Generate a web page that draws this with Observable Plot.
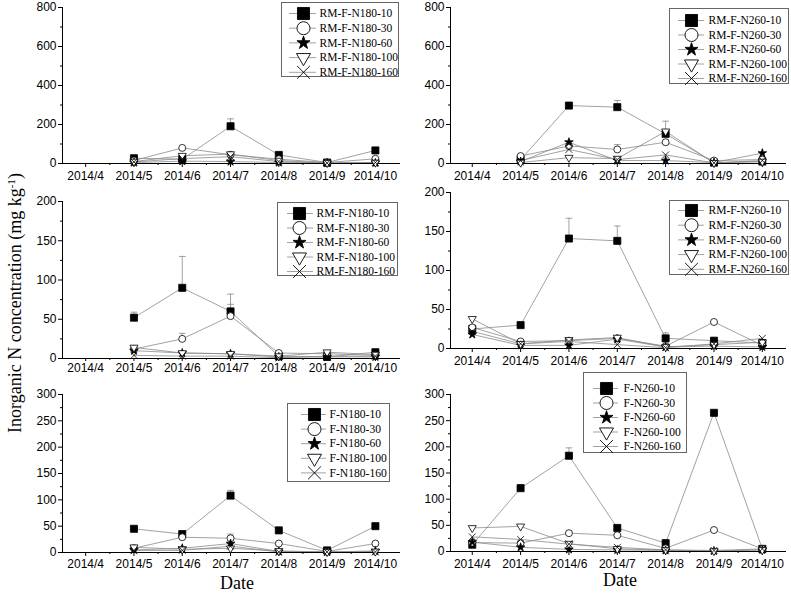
<!DOCTYPE html>
<html><head><meta charset="utf-8">
<script src="https://cdn.jsdelivr.net/npm/d3@7"></script>
<script src="https://cdn.jsdelivr.net/npm/@observablehq/plot@0.6"></script>
<style>
body{margin:0;background:#fff;}
#root{position:relative;width:791px;height:594px;overflow:hidden;background:#fff;}
.panel{position:absolute;}
.legend{position:absolute;border:1px solid #666;background:#fff;box-sizing:border-box;}
.ytitle{position:absolute;white-space:nowrap;font-family:"Liberation Serif","Times New Roman",serif;font-size:18px;transform:translate(-50%,-50%) rotate(-90deg);line-height:1;}
.xtitle{position:absolute;white-space:nowrap;font-family:"Liberation Serif","Times New Roman",serif;font-size:18px;transform:translate(-50%,-50%);line-height:1;}
</style></head><body><div id="root"></div>
<script>
// ---------- data ----------
const months = ["2014/4","2014/5","2014/6","2014/7","2014/8","2014/9","2014/10"];

const labelsA = ["RM-F-N180-10","RM-F-N180-30","RM-F-N180-60","RM-F-N180-100","RM-F-N180-160"];
const labelsB = ["RM-F-N260-10","RM-F-N260-30","RM-F-N260-60","RM-F-N260-100","RM-F-N260-160"];
const labelsE = ["F-N180-10","F-N180-30","F-N180-60","F-N180-100","F-N180-160"];
const labelsF = ["F-N260-10","F-N260-30","F-N260-60","F-N260-100","F-N260-160"];

// top-left (RM-F-N180), series: 10, 30, 60, 100, 160 cm
const valuesA = [
  [null, 27, 22, 191, 44, 5, 67],
  [null, 15, 80, 45, 22, 5, 24],
  [null, 5, 12, 10, 5, 2, 3],
  [null, 10, 40, 48, 15, 3, 5],
  [null, 8, 25, 35, 10, 2, 5]
];
const errA = [[null, 0, 0, 38, 0, 0, 0], [], [], [], []];

// top-right (RM-F-N260)
const valuesB = [
  [null, 20, 297, 289, 152, 5, 10],
  [null, 38, 90, 72, 109, 15, 20],
  [null, 10, 109, 15, 15, 5, 53],
  [null, 5, 30, 25, 165, 3, 10],
  [null, 15, 72, 20, 44, 3, 15]
];
const errB = [[null, 0, 0, 34, 65, 0, 0], [null, 0, 0, 25, 0, 0, 0], [], [], []];

// middle-left (RM-F-N180)
const valuesC = [
  [null, 52, 90, 60, 3, 2, 8],
  [null, 12, 25, 54, 7, 6, 4],
  [null, 10, 7, 6, 2, 2, 2],
  [null, 14, 7, 6, 3, 8, 5],
  [null, 4, 3, 3, 1, 3, 3]
];
const errC = [[null, 7, 40, 22, 0, 0, 0], [null, 0, 7, 15, 0, 0, 0], [], [], []];

// middle-right (RM-F-N260)
const valuesD = [
  [25, 30, 141, 138, 13, 10, 7],
  [27, 9, 10, 13, 3, 34, 4],
  [18, 4, 4, 12, 2, 3, 2],
  [38, 6, 11, 14, 2, 5, 8],
  [22, 6, 9, 5, 1, 6, 13]
];
const errD = [[0, 0, 26, 19, 7, 0, 0], [], [], [], []];

// bottom-left (F-N180)
const valuesE = [
  [null, 45, 35, 108, 42, 4, 50],
  [null, 8, 29, 27, 17, 2, 17],
  [null, 5, 8, 17, 2, 1, 3],
  [null, 10, 6, 8, 3, 1, 2],
  [null, 4, 4, 12, 1, 1, 1]
];
const errE = [[null, 0, 0, 10, 0, 0, 0], [null, 0, 0, 8, 0, 0, 0], [], [], []];

// bottom-right (F-N260)
const valuesF = [
  [13, 121, 183, 45, 16, 265, 5],
  [17, 16, 35, 31, 6, 41, 5],
  [18, 8, 4, 3, 2, 1, 3],
  [45, 48, 15, 5, 3, 1, 3],
  [28, 23, 14, 8, 3, 2, 5]
];
const errF = [[0, 7, 15, 0, 0, 0, 0], [], [], [], []];

const ticks800 = [0, 200, 400, 600, 800];
const ticks200 = [0, 50, 100, 150, 200];
const ticks300 = [0, 50, 100, 150, 200, 250, 300];

// ---------- styles ----------
const SYM = [
  {symbol: "square", fill: "black", stroke: "black"},
  {symbol: "circle", fill: "white", stroke: "black"},
  {symbol: "star", fill: "black", stroke: "black"},
  {symbol: "triangle", fill: "white", stroke: "black", rotate: 180},
  {symbol: "times", fill: "none", stroke: "black"}
];
const PANEL_R = [4, 3.5, 2.7, 3, 3.2];
const LEGEND_R = [6.8, 6.5, 4.1, 5.2, 5.9];
const GRAY = "#8a8a8a";

const root = document.getElementById("root");

function place(el, left, top) {
  const wrap = document.createElement("div");
  wrap.className = "panel";
  wrap.style.left = left + "px";
  wrap.style.top = top + "px";
  wrap.appendChild(el);
  root.appendChild(wrap);
  return wrap;
}

function panel(cfg) {
  const rows = [];
  cfg.values.forEach((vals, s) => vals.forEach((v, i) => {
    if (v != null) rows.push({s, i, v, e: (cfg.err[s] || [])[i] || 0});
  }));
  const errRows = rows.filter(r => r.e > 0);
  const marks = [];
  for (let s = 0; s < 5; s++) {
    marks.push(Plot.line(rows.filter(r => r.s === s), {x: "i", y: "v", stroke: GRAY, strokeWidth: 0.8}));
  }
  marks.push(Plot.ruleX(errRows, {x: "i", y1: "v", y2: r => r.v + r.e, stroke: GRAY, strokeWidth: 0.8}));
  marks.push(Plot.link(errRows, {x1: r => r.i - 0.07, x2: r => r.i + 0.07, y1: r => r.v + r.e, y2: r => r.v + r.e, stroke: GRAY, strokeWidth: 0.8}));
  const yMax = cfg.yTicks[cfg.yTicks.length - 1];
  const step = cfg.yTicks[1] - cfg.yTicks[0];
  const yMinor = d3.range(step / 2, yMax, step);
  marks.push(
    Plot.ruleX([cfg.xDomain[0]], {stroke: "black", strokeWidth: 1}),
    Plot.ruleY([0], {stroke: "black", strokeWidth: 1}),
    Plot.axisY({ticks: cfg.yTicks, tickSize: 4, tickPadding: 2, label: null}),
    Plot.axisY({ticks: yMinor, tickSize: 2, tickFormat: () => "", label: null}),
    Plot.axisX({ticks: d3.range(months.length), tickFormat: i => months[i], tickSize: cfg.xTick, tickPadding: cfg.xPad, label: null}),
    Plot.axisX({ticks: d3.range(-0.5 + 1, 6, 1), tickSize: 2, tickFormat: () => "", label: null})
  );
  for (let s = 0; s < 5; s++) {
    marks.push(Plot.dot(rows.filter(r => r.s === s), {x: "i", y: "v", ...SYM[s], r: PANEL_R[s], strokeWidth: 0.8}));
  }
  const svg = Plot.plot({
    width: cfg.width, height: cfg.height,
    marginLeft: cfg.mL, marginRight: cfg.mR, marginTop: cfg.mT, marginBottom: cfg.mB,
    x: {domain: cfg.xDomain, label: null},
    y: {domain: [0, yMax], label: null},
    style: {background: "transparent", fontFamily: "'Liberation Sans', Arial, sans-serif", fontSize: "12px", color: "black", overflow: "visible"},
    marks
  });
  place(svg, cfg.left, cfg.top);
}

function legend(cfg) {
  const ys = cfg.labels.map((_, i) => cfg.y0 + i * cfg.dy);
  const rows = cfg.labels.map((t, i) => ({t, i, y: ys[i]}));
  const marks = [
    Plot.ruleY(rows, {y: "y", x1: cfg.lx1, x2: cfg.lx2, stroke: GRAY, strokeWidth: 0.8})
  ];
  rows.forEach((r, i) => {
    marks.push(Plot.dot([r], {x: cfg.sx, y: "y", ...SYM[i], r: LEGEND_R[i], strokeWidth: 0.9}));
  });
  marks.push(Plot.text(rows, {x: cfg.tx, y: "y", text: "t", textAnchor: "start", fill: "black",
    fontFamily: "'Liberation Serif', 'Times New Roman', serif", fontSize: cfg.fs || 11.5}));
  const svg = Plot.plot({
    width: cfg.w - 2, height: cfg.h - 2, margin: 0,
    x: {domain: [0, cfg.w - 2], range: [0, cfg.w - 2], axis: null},
    y: {domain: [0, cfg.h - 2], range: [0, cfg.h - 2], axis: null},
    style: {background: "transparent", overflow: "visible"},
    marks
  });
  const box = document.createElement("div");
  box.className = "legend";
  box.style.left = cfg.left + "px";
  box.style.top = cfg.top + "px";
  box.style.width = cfg.w + "px";
  box.style.height = cfg.h + "px";
  box.appendChild(svg);
  root.appendChild(box);
}

const LX = [-0.48, 6.52], RX = [-0.45, 6.5];

panel({left: 0, top: 0, width: 410, height: 190, mL: 62, mR: 10, mT: 7, mB: 27, xDomain: LX, yTicks: ticks800, values: valuesA, err: errA, xTick: 4, xPad: 4});
panel({left: 400, top: 0, width: 391, height: 190, mL: 50, mR: 5, mT: 7, mB: 27, xDomain: RX, yTicks: ticks800, values: valuesB, err: errB, xTick: 4, xPad: 4});
panel({left: 0, top: 190, width: 410, height: 185, mL: 62, mR: 10, mT: 11, mB: 17, xDomain: LX, yTicks: ticks200, values: valuesC, err: errC, xTick: 3, xPad: 2});
panel({left: 400, top: 180, width: 391, height: 190, mL: 50, mR: 5, mT: 12, mB: 22, xDomain: RX, yTicks: ticks200, values: valuesD, err: errD, xTick: 4, xPad: 4});
panel({left: 0, top: 380, width: 410, height: 200, mL: 62, mR: 10, mT: 14, mB: 28, xDomain: LX, yTicks: ticks300, values: valuesE, err: errE, xTick: 4, xPad: 3});
panel({left: 400, top: 380, width: 391, height: 200, mL: 50, mR: 5, mT: 14, mB: 29, xDomain: RX, yTicks: ticks300, values: valuesF, err: errF, xTick: 4, xPad: 4});

legend({left: 281, top: 2, w: 118, h: 75, labels: labelsA, y0: 10, dy: 14.7, sx: 21, lx1: 7, lx2: 34, tx: 37});
legend({left: 669, top: 8, w: 120, h: 76, labels: labelsB, y0: 11, dy: 14.5, sx: 21, lx1: 8, lx2: 34, tx: 38});
legend({left: 277, top: 202, w: 121, h: 74, labels: labelsA, y0: 10, dy: 14.5, sx: 21, lx1: 9, lx2: 35, tx: 38});
legend({left: 669, top: 200, w: 120, h: 75, labels: labelsB, y0: 9, dy: 14.7, sx: 21, lx1: 8, lx2: 34, tx: 38});
legend({left: 287, top: 403, w: 103, h: 79, labels: labelsE, y0: 10, dy: 14.6, sx: 26, lx1: 13, lx2: 38, tx: 41, fs: 11.6});
legend({left: 583, top: 372, w: 104, h: 81, labels: labelsF, y0: 15, dy: 14.5, sx: 22, lx1: 9, lx2: 34, tx: 39, fs: 11.6});

const yt = document.createElement("div");
yt.className = "ytitle";
yt.style.left = "15px"; yt.style.top = "303px";
yt.innerHTML = "Inorganic N concentration (mg kg<sup style='font-size:0.62em;vertical-align:0.5em;line-height:0;'>-1</sup>)";
root.appendChild(yt);

[[237, 583], [620, 580]].forEach(([x, y]) => {
  const d = document.createElement("div");
  d.className = "xtitle";
  d.style.left = x + "px"; d.style.top = y + "px";
  d.textContent = "Date";
  root.appendChild(d);
});
</script></body></html>
